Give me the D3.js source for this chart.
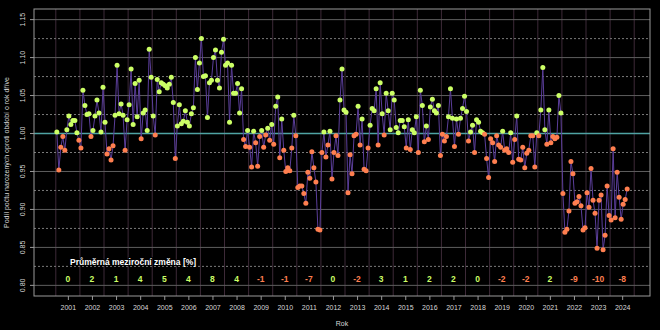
<!DOCTYPE html>
<html><head><meta charset="utf-8">
<script src="https://cdn.jsdelivr.net/npm/d3@7"></script>
<style>
html,body{margin:0;padding:0;background:#000;}
svg{display:block;font-family:"Liberation Sans",Arial,sans-serif;}
</style></head>
<body>
<svg id="chart" width="660" height="330"></svg>
<script>
// ---- DATA ----
const startYear = 2001;
const years = d3.range(2001, 2025);
const values = [
  // 2001
  1.002,0.952,0.982,0.996,0.978,1.005,1.023,1.012,1.017,1.017,1.001,0.991,
  // 2002
  0.981,1.057,1.037,1.025,1.026,0.996,1.004,1.023,1.044,1.027,1.002,1.061,
  // 2003
  1.015,0.973,0.980,0.965,0.984,1.024,1.090,1.026,1.039,1.024,0.978,1.018,
  // 2004
  1.038,1.085,1.012,1.066,1.022,1.070,0.993,1.027,1.031,1.004,1.111,1.074,
  // 2005
  1.023,0.998,1.071,1.055,1.067,1.065,1.063,1.060,1.065,1.074,1.041,0.967,
  // 2006
  1.010,1.038,1.013,1.016,1.030,1.015,1.010,1.026,1.034,1.100,1.058,1.093,
  // 2007
  1.125,1.075,1.076,1.021,1.067,1.070,1.100,1.110,1.070,1.060,1.107,1.124,
  // 2008
  1.090,1.093,1.015,1.090,1.053,1.053,1.066,1.027,1.059,0.992,0.983,1.004,
  // 2009
  0.982,0.956,1.003,0.988,0.957,0.996,1.004,0.982,0.998,1.007,0.991,1.012,
  // 2010
  0.986,1.036,1.048,0.968,1.019,0.978,0.950,0.955,0.951,0.981,1.024,0.997,
  // 2011
  0.929,0.931,0.931,0.921,0.908,0.949,0.941,0.976,0.955,0.936,0.874,0.873,
  // 2012
  0.975,1.002,0.969,0.985,1.003,0.940,0.975,0.997,0.971,1.044,1.085,1.031,
  // 2013
  1.028,0.922,0.972,0.947,0.997,0.999,1.036,0.985,1.019,0.953,0.951,0.981,
  // 2014
  1.011,1.033,1.030,1.059,0.985,1.067,1.026,0.998,1.053,1.030,1.005,1.053,
  // 2015
  1.044,1.008,1.001,1.017,1.017,1.009,0.981,1.018,0.979,1.005,1.001,1.022,
  // 2016
  0.975,1.057,1.037,0.989,1.010,0.992,1.035,1.045,1.030,1.027,1.037,0.971,
  // 2017
  0.999,0.990,0.996,1.022,1.059,1.020,0.983,1.019,0.999,1.020,1.033,1.049,
  // 2018
  1.029,0.990,1.002,1.011,0.975,1.018,1.015,1.003,1.001,0.999,0.967,0.942,
  // 2019
  0.993,0.988,0.963,0.997,0.985,0.982,1.003,0.978,0.980,0.975,1.001,0.962,
  // 2020
  0.992,1.023,0.966,0.965,0.982,0.955,0.974,0.978,0.997,0.997,0.956,1.001,
  // 2021
  0.997,1.031,1.087,1.005,0.986,1.031,0.988,0.996,0.993,0.995,1.050,1.027,
  // 2022
  0.921,0.870,0.874,0.898,0.963,0.947,0.908,0.910,0.917,0.905,0.873,0.876,
  // 2023
  0.922,0.903,0.954,0.912,0.895,0.849,0.912,0.919,0.847,0.866,0.931,0.892,
  // 2024
  0.886,0.980,0.889,0.949,0.916,0.887,0.907,0.913,0.927
];
const yearChange = [0,2,1,4,5,4,8,4,-1,-1,-7,0,-2,3,1,2,2,0,-2,-2,2,-9,-10,-8];
const yTicks = [0.80,0.85,0.90,0.95,1.00,1.05,1.10,1.15];
const yMinorTicks = [0.825,0.875,0.925,0.975,1.025,1.075,1.125];
const yTickLabels = ["0.80","0.85","0.90","0.95","1.00","1.05","1.10","1.15"];
const titleY = "Podíl počtu narozených oproti období o rok dříve";
const titleX = "Rok";
const changeTitle = "Průměrná meziroční změna [%]";

// ---- LAYOUT ----
const svg = d3.select("#chart");
const L = 34, R = 650, T = 9, B = 296;
const COL_UP = "#ccff66", COL_DOWN = "#ff7f50";

const data = values.map((v, i) => ({t: startYear + (i + 0.5) / 12, v}));
const tMin = data[0].t, tMax = data[data.length - 1].t;
const pad = (tMax - tMin) * 0.04;
const x = d3.scaleLinear().domain([tMin - pad, tMax + pad]).range([L, R]);
const yPad = (1.15 - 0.80) * 0.04;
const y = d3.scaleLinear().domain([0.80 - yPad, 1.15 + yPad]).range([B, T]);

// vertical year boundaries
svg.append("g").selectAll("line").data(d3.range(2001, 2026)).join("line")
  .attr("x1", d => x(d)).attr("x2", d => x(d))
  .attr("y1", T).attr("y2", B)
  .attr("stroke", "#3d2a38").attr("stroke-width", 1);

// solid horizontal grid
svg.append("g").selectAll("line").data(yTicks.filter(d => d !== 1.0)).join("line")
  .attr("x1", L).attr("x2", R)
  .attr("y1", d => y(d)).attr("y2", d => y(d))
  .attr("stroke", "#5e5e5e").attr("stroke-width", 1);

// dashed horizontal grid
svg.append("g").selectAll("line").data(yMinorTicks).join("line")
  .attr("x1", L).attr("x2", R)
  .attr("y1", d => y(d)).attr("y2", d => y(d))
  .attr("stroke", "#7a7a7a").attr("stroke-width", 1)
  .attr("stroke-dasharray", "2,2");

// reference line at 1.00
svg.append("line")
  .attr("x1", L).attr("x2", R).attr("y1", y(1)).attr("y2", y(1))
  .attr("stroke", "#4fa3a3").attr("stroke-width", 1.3);

// series line
svg.append("path").datum(data)
  .attr("d", d3.line().x(d => x(d.t)).y(d => y(d.v)))
  .attr("fill", "none").attr("stroke", "#5b3e9a").attr("stroke-width", 1);

// points
svg.append("g").selectAll("circle").data(data).join("circle")
  .attr("cx", d => x(d.t)).attr("cy", d => y(d.v)).attr("r", 2.5)
  .attr("fill", d => d.v >= 1 ? COL_UP : COL_DOWN);

// frame
svg.append("rect").attr("x", L).attr("y", T).attr("width", R - L).attr("height", B - T)
  .attr("fill", "none").attr("stroke", "#9a9a9a").attr("stroke-width", 1);

// y axis
const yAxis = svg.append("g").attr("transform", `translate(${L},0)`)
  .call(d3.axisLeft(y).tickValues(yTicks).tickFormat((d, i) => yTickLabels[i]).tickSize(4));
yAxis.select(".domain").remove();
yAxis.selectAll("line").attr("stroke", "#9a9a9a");
yAxis.selectAll(".tick").attr("transform", null);
yAxis.selectAll(".tick line").attr("y1", d => y(d)).attr("y2", d => y(d)).attr("x2", -4);
yAxis.selectAll(".tick text")
  .attr("fill", "#d8d8d8").attr("font-size", 7).attr("text-anchor", "middle")
  .attr("x", -11).attr("y", d => y(d))
  .attr("transform", d => `rotate(-90,-11,${y(d)})`).attr("dy", "0.35em");

// x axis
const xAxis = svg.append("g").attr("transform", `translate(0,${B})`)
  .call(d3.axisBottom(x).tickValues(years.map(d => d + 0.5)).tickFormat(d => String(Math.floor(d))).tickSize(4));
xAxis.select(".domain").remove();
xAxis.selectAll("line").attr("stroke", "#9a9a9a");
xAxis.selectAll("text").attr("fill", "#d8d8d8").attr("font-size", 7).attr("dy", "1.05em");

// axis titles
svg.append("text").attr("x", (L + R) / 2).attr("y", 326).attr("text-anchor", "middle")
  .attr("fill", "#d8d8d8").attr("font-size", 7).text(titleX);
svg.append("text").attr("transform", `translate(9,${(T + B) / 2}) rotate(-90)`)
  .attr("text-anchor", "middle").attr("fill", "#d8d8d8").attr("font-size", 7).text(titleY);

// yearly change annotations
svg.append("text").attr("x", 70).attr("y", 265)
  .attr("fill", "#ffffff").attr("font-size", 8.5).attr("font-weight", "bold")
  .attr("stroke", "#000").attr("stroke-width", 2).attr("paint-order", "stroke")
  .text(changeTitle);
svg.append("g").selectAll("text").data(yearChange).join("text")
  .attr("x", (d, i) => x(years[i] + 0.5)).attr("y", 282)
  .attr("text-anchor", "middle").attr("font-size", 8.5).attr("font-weight", "bold")
  .attr("fill", d => d >= 0 ? COL_UP : COL_DOWN)
  .text(d => String(d));
</script>
</body></html>
